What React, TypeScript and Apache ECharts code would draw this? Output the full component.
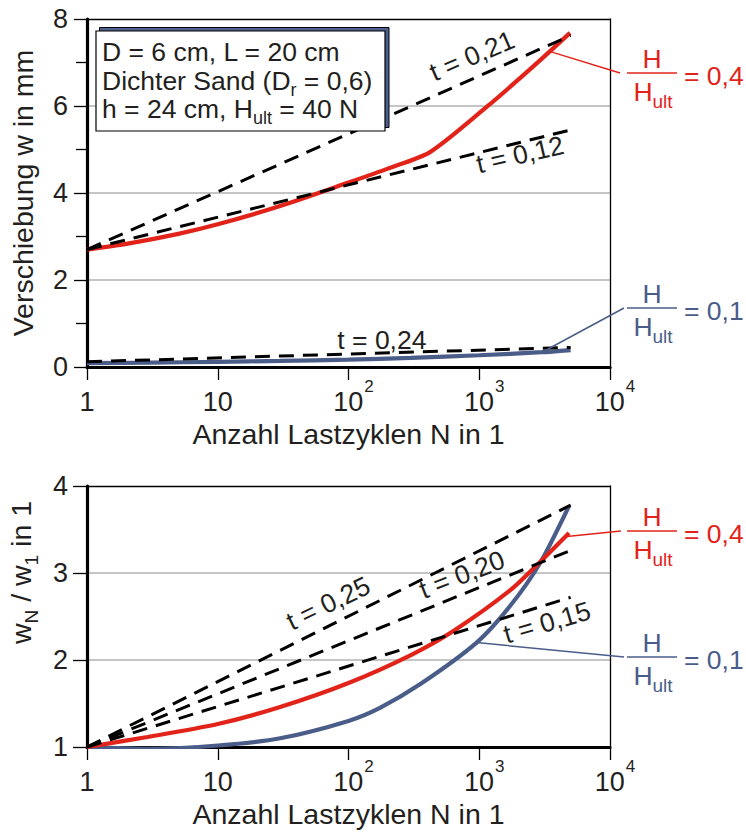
import React, { useEffect, useRef } from 'react';
import * as echarts from 'echarts';

const FONT = '"Liberation Sans", Arial, Helvetica, sans-serif';
const INK = '#231f20';
const RED = '#e2231a';
const BLUE = '#4a5d89';
const GRID_GRAY = '#b2b2b2';

// Load cycles N (log axis), decade exponents for the tick labels
const decadeExponents = [0, 1, 2, 3, 4];

// Upper panel: displacement w in mm
const nRedUpper = [1, 2, 5, 10, 30, 100, 200, 420, 1150, 2590, 4950];
const wRedUpper = [2.7, 2.83, 3.06, 3.28, 3.7, 4.24, 4.56, 4.94, 5.99, 6.91, 7.68];
const nBlueUpper = [1, 3, 10, 30, 100, 300, 1000, 3000, 5000];
const wBlueUpper = [0.09, 0.1, 0.12, 0.14, 0.17, 0.21, 0.27, 0.34, 0.39];
const nFit = [1, 5000];
const wFit021 = [2.7, 7.62];
const wFit012 = [2.7, 5.45];
const wFit024 = [0.12, 0.45];

// Lower panel: normalised displacement wN / w1
const nRedLower = [1, 2.9, 10, 30, 100, 300, 630, 1720, 2930, 4860];
const rRedLower = [1.0, 1.115, 1.264, 1.46, 1.736, 2.057, 2.33, 2.8, 3.13, 3.46];
const nBlueLower = [1, 3, 10, 30, 100, 174, 352, 955, 1720, 2920, 4860];
const rBlueLower = [1.0, 0.98, 1.017, 1.1, 1.3, 1.45, 1.72, 2.2, 2.62, 3.115, 3.77];
const rFit025 = [1, 3.78];
const rFit020 = [1, 3.26];
const rFit015 = [1, 2.72];

// Text labels
const fitTexts = ['t = 0,21', 't = 0,12', 't = 0,24', 't = 0,25', 't = 0,20', 't = 0,15'];
const loadRatioTexts = ['= 0,4', '= 0,1'];
const boxLines = [
  '{a|D = 6 cm, L = 20 cm}',
  '{a|Dichter Sand (D}{u|r}{a| = 0,6)}',
  '{a|h = 24 cm, H}{u|ult}{a| = 40 N}',
];

const pairs = (xs: number[], ys: number[]) => xs.map((x, i) => [x, ys[i]]);

const tickRich = {
  b: { fontSize: 27, lineHeight: 50, fontFamily: FONT, color: INK },
  s: { fontSize: 17, lineHeight: 18, padding: [0, 0, 32, 1], fontFamily: FONT, color: INK },
  p: { width: 10, fontSize: 17, lineHeight: 18 },
};

function decadeLabel(value: number) {
  const e = Math.round(Math.log10(value));
  if (decadeExponents.indexOf(e) < 0) return '';
  if (e === 0) return '{b|1}';
  if (e === 1) return '{b|10}';
  return `{p| }{b|10}{s|${e}}`;
}

function xAxesFor(gridIndex: number) {
  return [
    {
      type: 'log',
      logBase: 10,
      min: 1,
      max: 10000,
      gridIndex,
      position: 'bottom',
      axisLine: { onZero: false, lineStyle: { color: '#000', width: 3.2 } },
      axisTick: { show: true, inside: false, length: 13, lineStyle: { color: '#000', width: 1.3 } },
      splitLine: { show: false },
      axisLabel: { formatter: decadeLabel, margin: 10, rich: tickRich },
      name: 'Anzahl Lastzyklen N in 1',
      nameLocation: 'middle',
      nameGap: 52,
      nameMoveOverlap: false,
      nameTextStyle: { fontSize: 28.5, fontFamily: FONT, color: INK },
    },
    {
      type: 'log',
      logBase: 10,
      min: 1,
      max: 10000,
      gridIndex,
      position: 'top',
      axisLine: { onZero: false, lineStyle: { color: '#000', width: 1.3 } },
      axisTick: { show: false },
      axisLabel: { show: false },
      splitLine: { show: false },
    },
  ];
}

function rightAxis(gridIndex: number, min: number, max: number) {
  return {
    type: 'value',
    gridIndex,
    min,
    max,
    position: 'right',
    axisLine: { show: true, onZero: false, lineStyle: { color: '#000', width: 1.3 } },
    axisTick: { show: false },
    axisLabel: { show: false },
    splitLine: { show: false },
  };
}

const yLabelStyle = { fontSize: 27, fontFamily: FONT, color: INK, margin: 19 };
const splitStyle = {
  show: true,
  showMinLine: false,
  showMaxLine: false,
  lineStyle: { color: GRID_GRAY, width: 1.5 },
};

function curve(data: number[][], color: string, axis: number) {
  return {
    type: 'line',
    xAxisIndex: axis,
    yAxisIndex: axis,
    data,
    symbol: 'none',
    smooth: 0.25,
    lineStyle: { color, width: 4.2 },
    z: 3,
  };
}

function fitLine(ys: number[], axis: number) {
  return {
    type: 'line',
    xAxisIndex: axis,
    yAxisIndex: axis,
    data: pairs(nFit, ys),
    symbol: 'none',
    lineStyle: { color: '#000', width: 3, type: [15, 9] },
    z: 4,
  };
}

function buildOption() {
  return {
    animation: false,
    backgroundColor: '#fff',
    grid: [
      { left: 87, top: 19, width: 523, height: 348, containLabel: false, outerBoundsMode: 'none' },
      { left: 87, top: 486, width: 523, height: 261, containLabel: false, outerBoundsMode: 'none' },
    ],
    xAxis: [...xAxesFor(0), ...xAxesFor(1)],
    yAxis: [
      {
        type: 'value',
        gridIndex: 0,
        min: 0,
        max: 8,
        interval: 2,
        axisLine: { show: true, onZero: false, lineStyle: { color: '#000', width: 3.2 } },
        axisTick: { show: true, length: 13, lineStyle: { color: '#000', width: 1.3 } },
        minorTick: { show: true, splitNumber: 2, length: 11, lineStyle: { color: '#000', width: 1.3 } },
        minorSplitLine: { show: false },
        axisLabel: yLabelStyle,
        splitLine: splitStyle,
        name: 'Verschiebung w in mm',
        nameLocation: 'middle',
        nameRotate: 90,
        nameGap: 50,
        nameMoveOverlap: false,
        nameTextStyle: { fontSize: 28.5, fontFamily: FONT, color: INK },
      },
      rightAxis(0, 0, 8),
      {
        type: 'value',
        gridIndex: 1,
        min: 1,
        max: 4,
        interval: 1,
        axisLine: { show: true, onZero: false, lineStyle: { color: '#000', width: 3.2 } },
        axisTick: { show: true, length: 14, lineStyle: { color: '#000', width: 1.3 } },
        axisLabel: yLabelStyle,
        splitLine: splitStyle,
        name: '{a|w}{u|N}{a| / w}{u|1}{a| in 1}',
        nameLocation: 'middle',
        nameRotate: 90,
        nameGap: 50,
        nameMoveOverlap: false,
        nameTextStyle: {
          padding: [0, 0, 0, 88],
          rich: {
            a: { fontSize: 28.5, lineHeight: 32, fontFamily: FONT, color: INK },
            u: { fontSize: 19, lineHeight: 12, fontFamily: FONT, color: INK, padding: [20, 0, 0, 0] },
          },
        },
      },
      rightAxis(1, 1, 4),
    ],
    series: [
      curve(pairs(nBlueUpper, wBlueUpper), BLUE, 0),
      curve(pairs(nRedUpper, wRedUpper), RED, 0),
      fitLine(wFit021, 0),
      fitLine(wFit012, 0),
      fitLine(wFit024, 0),
      curve(pairs(nBlueLower, rBlueLower), BLUE, 2),
      curve(pairs(nRedLower, rRedLower), RED, 2),
      fitLine(rFit025, 2),
      fitLine(rFit020, 2),
      fitLine(rFit015, 2),
    ],
  };
}

// Annotation layout (data-space anchors for the exponent labels)
const fitLabelLayout = [
  { panel: 0, n: 880, v: 7.15, fit: wFit021 },
  { panel: 0, n: 2050, v: 4.88, fit: wFit012 },
  { panel: 0, n: 180, v: 0.62, fit: wFit024, flat: true },
  { panel: 1, n: 70, v: 2.65, fit: rFit025 },
  { panel: 1, n: 738, v: 2.98, fit: rFit020 },
  { panel: 1, n: 3300, v: 2.43, fit: rFit015 },
];

// Load-ratio labels: bar height in px, curve point for the leader line
const ratioLayout = [
  { panel: 0, barY: 73, color: RED, text: 0, from: [3500, 7.25], endX: 620 },
  { panel: 0, barY: 308, color: BLUE, text: 1, from: [3070, 0.35], endX: 624 },
  { panel: 1, barY: 531, color: RED, text: 0, from: [4670, 3.42], endX: 621 },
  { panel: 1, barY: 657, color: BLUE, text: 1, from: [955, 2.2], endX: 624 },
];

function buildGraphics(chart: echarts.ECharts) {
  const toPx = (panel: number, n: number, v: number) =>
    chart.convertToPixel({ xAxisIndex: panel * 2, yAxisIndex: panel * 2 }, [n, v]) as number[];
  const els: any[] = [];

  // Parameter box with offset shadow
  els.push({
    type: 'rect',
    shape: { x: 99.5, y: 27.5, width: 289.5, height: 100 },
    style: { fill: '#4d6190', stroke: '#000', lineWidth: 1 },
    z: 50,
  });
  els.push({
    type: 'rect',
    shape: { x: 96, y: 31, width: 289, height: 100 },
    style: { fill: '#fff', stroke: '#000', lineWidth: 1.2 },
    z: 51,
  });
  const boxRich = {
    a: { fontSize: 26.5, lineHeight: 28, fontFamily: FONT, fill: INK },
    u: { fontSize: 18, lineHeight: 10, fontFamily: FONT, fill: INK, padding: [18, 0, 0, 0] },
  };
  boxLines.forEach((t, i) => {
    els.push({
      type: 'text',
      x: 102,
      y: 52 + i * 28.5,
      z: 52,
      style: {
        text: t,
        rich: boxRich,
        fontSize: 26.5,
        fontFamily: FONT,
        fill: INK,
        align: 'left',
        verticalAlign: 'middle',
      },
    });
  });

  // Exponent labels along the fitted lines
  fitLabelLayout.forEach((l, i) => {
    const p = toPx(l.panel, l.n, l.v);
    const a = toPx(l.panel, nFit[0], l.fit[0]);
    const b = toPx(l.panel, nFit[1], l.fit[1]);
    const ang = l.flat ? 0 : Math.atan2(a[1] - b[1], b[0] - a[0]) - 0.015;
    els.push({
      type: 'text',
      x: p[0],
      y: p[1],
      rotation: ang,
      z: 60,
      style: {
        text: fitTexts[i],
        fontSize: 26.5,
        fontFamily: FONT,
        fill: INK,
        align: 'center',
        verticalAlign: 'middle',
      },
    });
  });

  // H / Hult labels with leader lines
  ratioLayout.forEach((r) => {
    const s = toPx(r.panel, r.from[0], r.from[1]);
    els.push({
      type: 'line',
      shape: { x1: s[0], y1: s[1], x2: r.endX, y2: r.barY },
      style: { stroke: r.color, lineWidth: 1.5 },
      z: 60,
    });
    els.push({
      type: 'text',
      x: 652,
      y: r.barY - 14,
      z: 60,
      style: { text: 'H', fontSize: 26.5, fontFamily: FONT, fill: r.color, align: 'center', verticalAlign: 'middle' },
    });
    els.push({
      type: 'line',
      shape: { x1: 627, y1: r.barY, x2: 677, y2: r.barY },
      style: { stroke: r.color, lineWidth: 1.6 },
      z: 60,
    });
    els.push({
      type: 'text',
      x: 653,
      y: r.barY + 19,
      z: 60,
      style: {
        text: '{h|H}{u|ult}',
        rich: {
          h: { fontSize: 26.5, lineHeight: 28, fontFamily: FONT, fill: r.color },
          u: { fontSize: 19, lineHeight: 10, fontFamily: FONT, fill: r.color, padding: [18, 0, 0, 0] },
        },
        fill: r.color,
        align: 'center',
        verticalAlign: 'middle',
      },
    });
    els.push({
      type: 'text',
      x: 684,
      y: r.barY + 3,
      z: 60,
      style: {
        text: loadRatioTexts[r.text],
        fontSize: 26.5,
        fontFamily: FONT,
        fill: r.color,
        align: 'left',
        verticalAlign: 'middle',
      },
    });
  });

  return els;
}

export default function App() {
  const ref = useRef<HTMLDivElement>(null);
  useEffect(() => {
    const el = ref.current;
    if (!el) return;
    const chart = echarts.init(el, null, { renderer: 'svg' });
    chart.setOption(buildOption() as any);
    chart.setOption({ graphic: buildGraphics(chart) } as any);
    return () => chart.dispose();
  }, []);
  return (
    <div
      ref={ref}
      style={{ position: 'fixed', left: 0, top: 0, width: 746, height: 832, background: '#fff' }}
    />
  );
}
